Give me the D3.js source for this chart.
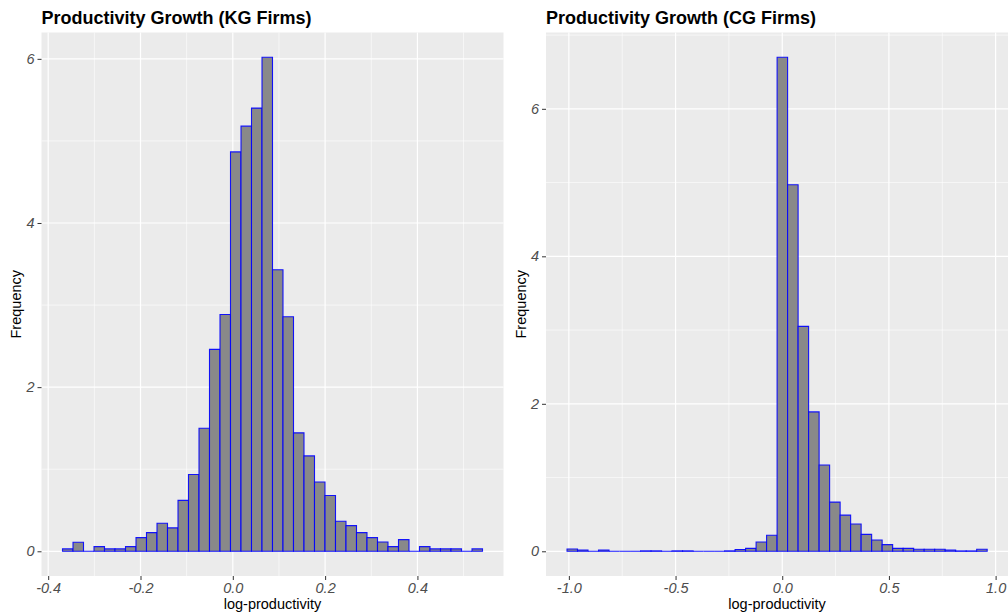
<!DOCTYPE html>
<html>
<head>
<meta charset="utf-8">
<script src="https://cdn.jsdelivr.net/npm/d3@7"></script>
<style>
  html, body { margin: 0; padding: 0; background: #ffffff; }
  svg { display: block; font-family: "Liberation Sans", Arial, Helvetica, sans-serif; }
</style>
</head>
<body>
<svg id="chart" width="1008" height="615"></svg>
<script>
// Histogram densities, 40 equal-width bins per group
const kgBinStart = -0.369;
const kgBinWidth = 0.02275;
const kgDensity = [
  0.029, 0.11, 0, 0.057, 0.029, 0.029, 0.057, 0.167, 0.228, 0.342,
  0.285, 0.62, 0.935, 1.50, 2.46, 2.886, 4.866, 5.18, 5.40, 6.02,
  3.43, 2.857, 1.443, 1.162, 0.845, 0.68, 0.366, 0.313, 0.228, 0.167,
  0.114, 0.057, 0.142, 0, 0.057, 0.029, 0.029, 0.029, 0, 0.029
];

const cgBinStart = -1.0087;
const cgBinWidth = 0.04923;
const cgDensity = [
  0.032, 0.018, 0, 0.018, 0, 0, 0, 0.006, 0.006, 0,
  0.006, 0.006, 0, 0, 0, 0.006, 0.025, 0.04, 0.126, 0.217,
  6.70, 4.97, 3.05, 1.89, 1.17, 0.667, 0.49, 0.37, 0.23, 0.153,
  0.09, 0.04, 0.04, 0.027, 0.027, 0.027, 0.017, 0.005, 0.005, 0.027
];

// Axis breaks and labels
const kgXTicks = [-0.4, -0.2, 0.0, 0.2, 0.4];
const kgXLabels = ["-0.4", "-0.2", "0.0", "0.2", "0.4"];
const kgXMinor = [-0.3, -0.1, 0.1, 0.3, 0.5];
const cgXTicks = [-1.0, -0.5, 0.0, 0.5, 1.0];
const cgXLabels = ["-1.0", "-0.5", "0.0", "0.5", "1.0"];
const cgXMinor = [-0.75, -0.25, 0.25, 0.75];
const yTicks = [0, 2, 4, 6];
const yLabels = ["0", "2", "4", "6"];
const yMinor = [1, 3, 5, 7];

const titles = ["Productivity Growth (KG Firms)", "Productivity Growth (CG Firms)"];
const xTitle = "log-productivity";
const yTitle = "Frequency";

const svg = d3.select("#chart");

function expand(lo, hi) {
  const pad = (hi - lo) * 0.05;
  return [lo - pad, hi + pad];
}

function styleTickText(sel) {
  sel.attr("fill", "#4D4D4D")
    .style("font-size", "14.5px")
    .style("font-style", "italic")
    .style("font-family", "'Liberation Sans', Arial, sans-serif");
}

function drawPanel(cfg) {
  const { x0, x1, y0, y1 } = cfg;
  const bins = cfg.density.map((d, i) => ({
    lo: cfg.binStart + i * cfg.binWidth,
    hi: cfg.binStart + (i + 1) * cfg.binWidth,
    v: d
  }));
  const x = d3.scaleLinear()
    .domain(expand(bins[0].lo, bins[bins.length - 1].hi))
    .range([x0, x1]);
  const y = d3.scaleLinear()
    .domain(expand(0, d3.max(bins, b => b.v)))
    .range([y1, y0]);

  const g = svg.append("g");

  // panel background
  g.append("rect")
    .attr("x", x0).attr("y", y0)
    .attr("width", x1 - x0).attr("height", y1 - y0)
    .attr("fill", "#EBEBEB");

  const [dx0, dx1] = x.domain();
  const [dy0, dy1] = y.domain();

  // minor grid
  g.selectAll(".vminor").data(cfg.xMinor.filter(v => v >= dx0 && v <= dx1))
    .join("line")
    .attr("x1", d => x(d)).attr("x2", d => x(d))
    .attr("y1", y0).attr("y2", y1)
    .attr("stroke", "#ffffff").attr("stroke-width", 0.6);
  g.selectAll(".hminor").data(yMinor.filter(v => v >= dy0 && v <= dy1))
    .join("line")
    .attr("y1", d => y(d)).attr("y2", d => y(d))
    .attr("x1", x0).attr("x2", x1)
    .attr("stroke", "#ffffff").attr("stroke-width", 0.6);

  // major grid
  g.selectAll(".vmajor").data(cfg.xTicks.filter(v => v >= dx0 && v <= dx1))
    .join("line")
    .attr("x1", d => x(d)).attr("x2", d => x(d))
    .attr("y1", y0).attr("y2", y1)
    .attr("stroke", "#ffffff").attr("stroke-width", 1.2);
  g.selectAll(".hmajor").data(yTicks.filter(v => v >= dy0 && v <= dy1))
    .join("line")
    .attr("y1", d => y(d)).attr("y2", d => y(d))
    .attr("x1", x0).attr("x2", x1)
    .attr("stroke", "#ffffff").attr("stroke-width", 1.2);

  // bars as closed paths so empty bins still show their outline on the baseline
  g.selectAll(".bar").data(bins)
    .join("path")
    .attr("d", b => {
      const xl = x(b.lo), xr = x(b.hi), yb = y(0), yt = y(b.v);
      return `M${xl},${yb}V${yt}H${xr}V${yb}Z`;
    })
    .attr("fill", "#898989")
    .attr("stroke", "#0000FF")
    .attr("stroke-width", 1.1)
    .attr("stroke-opacity", 0.9);

  // x axis
  const xAxis = d3.axisBottom(x)
    .tickValues(cfg.xTicks)
    .tickFormat((d, i) => cfg.xLabels[i])
    .tickSize(4).tickPadding(3);
  const xa = g.append("g").attr("transform", `translate(0,${y1})`).call(xAxis);
  xa.select(".domain").remove();
  xa.selectAll("line").attr("stroke", "#333333").attr("stroke-width", 1);
  styleTickText(xa.selectAll("text"));

  // y axis
  const yAxis = d3.axisLeft(y)
    .tickValues(yTicks.filter(v => v >= dy0 && v <= dy1))
    .tickFormat(d => yLabels[yTicks.indexOf(d)])
    .tickSize(4).tickPadding(3);
  const ya = g.append("g").attr("transform", `translate(${x0},0)`).call(yAxis);
  ya.select(".domain").remove();
  ya.selectAll("line").attr("stroke", "#333333").attr("stroke-width", 1);
  styleTickText(ya.selectAll("text"));

  // titles
  g.append("text")
    .attr("x", x0).attr("y", 24)
    .attr("font-size", 18).attr("font-weight", "bold")
    .attr("fill", "#000000")
    .text(cfg.title);

  g.append("text")
    .attr("x", (x0 + x1) / 2).attr("y", 609)
    .attr("text-anchor", "middle")
    .attr("font-size", 14.5).attr("fill", "#000000")
    .text(xTitle);

  g.append("text")
    .attr("transform", `translate(${cfg.yTitleX},${(y0 + y1) / 2}) rotate(-90)`)
    .attr("text-anchor", "middle")
    .attr("font-size", 14.5).attr("fill", "#000000")
    .text(yTitle);
}

drawPanel({
  x0: 41.5, x1: 503.5, y0: 32.5, y1: 576,
  density: kgDensity, binStart: kgBinStart, binWidth: kgBinWidth,
  xTicks: kgXTicks, xLabels: kgXLabels, xMinor: kgXMinor,
  title: titles[0], yTitleX: 21
});

drawPanel({
  x0: 546, x1: 1008.2, y0: 32.5, y1: 576,
  density: cgDensity, binStart: cgBinStart, binWidth: cgBinWidth,
  xTicks: cgXTicks, xLabels: cgXLabels, xMinor: cgXMinor,
  title: titles[1], yTitleX: 526
});
</script>
</body>
</html>
